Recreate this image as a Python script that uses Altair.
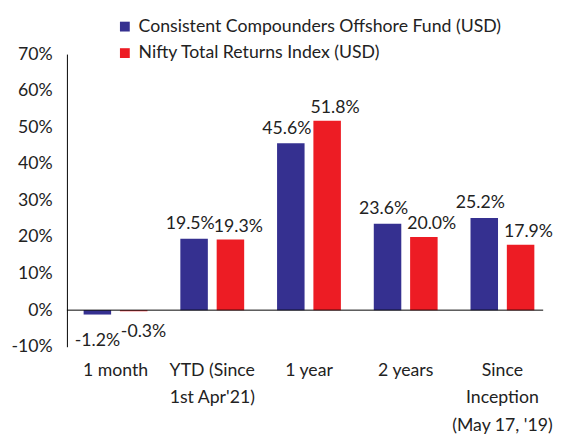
import altair as alt
import pandas as pd

categories = ["1 month", "YTD (Since|1st Apr'21)", "1 year", "2 years", "Since|Inception|(May 17, '19)"]
series = ["Consistent Compounders Offshore Fund (USD)", "Nifty Total Returns Index (USD)"]
fund = [-1.2, 19.5, 45.6, 23.6, 25.2]
nifty = [-0.3, 19.3, 51.8, 20.0, 17.9]
y_ticks = [-10, 0, 10, 20, 30, 40, 50, 60, 70]
colors = ["#353090", "#ED1C24"]

rows = []
for i, c in enumerate(categories):
    rows.append({"cat": c, "series": series[0], "v": fund[i], "lab": f"{fund[i]:.1f}%", "side": -1})
    rows.append({"cat": c, "series": series[1], "v": nifty[i], "lab": f"{nifty[i]:.1f}%", "side": 1})
df = pd.DataFrame(rows)

FONT = "Lato"
FS = 18
TXT = "#222"

x = alt.X("cat:N", sort=categories, title=None,
          scale=alt.Scale(paddingInner=0.34, paddingOuter=0.132, align=0.654),
          axis=alt.Axis(orient="bottom", domain=False, ticks=False, labelAngle=0,
                        labelExpr="split(datum.label, '|')", labelPadding=24,
                        labelLineHeight=28, labelFontSize=FS, labelFont=FONT,
                        labelColor=TXT, labelBaseline="middle"))
y_axis = alt.Axis(values=y_ticks, labelExpr="datum.value + '%'",
                  grid=False, ticks=False, domain=True, domainColor="#000",
                  labelOverlap=False, labelFontSize=FS, labelFont=FONT,
                  labelColor=TXT, labelPadding=15)
y_scale = alt.Scale(domain=[-10, 70], nice=False)
y = alt.Y("v:Q", title=None, scale=y_scale, axis=y_axis)
xo = alt.XOffset("series:N", sort=series, scale=alt.Scale(paddingInner=0.243, paddingOuter=0))
color = alt.Color("series:N", sort=series, scale=alt.Scale(domain=series, range=colors),
                  legend=alt.Legend(title=None, orient="none", legendX=50, legendY=-37,
                                    symbolType="square", symbolSize=100, symbolStrokeWidth=0,
                                    labelFontSize=FS, labelFont=FONT, labelColor=TXT,
                                    labelOffset=5, rowPadding=9, labelLimit=500))

base = alt.Chart(df)
bars = base.mark_bar().encode(x=x, xOffset=xo, y=y, color=color)
pos_b = base.transform_filter("datum.v >= 0 && datum.side < 0").mark_text(
    baseline="bottom", dy=-6, dx=-4, fontSize=FS, font=FONT, color=TXT).encode(
    x=x, xOffset=xo, y=y, text="lab:N")
pos_r = base.transform_filter("datum.v >= 0 && datum.side > 0").mark_text(
    baseline="bottom", dy=-4, dx=8, fontSize=FS, font=FONT, color=TXT).encode(
    x=x, xOffset=xo, y=y, text="lab:N")
neg_b = base.transform_filter("datum.v < 0 && datum.side < 0").mark_text(
    baseline="top", dy=18, dx=0, fontSize=FS, font=FONT, color=TXT).encode(
    x=x, xOffset=xo, y=y, text="lab:N")
neg_r = base.transform_filter("datum.v < 0 && datum.side > 0").mark_text(
    baseline="top", dy=12, dx=10, fontSize=FS, font=FONT, color=TXT).encode(
    x=x, xOffset=xo, y=y, text="lab:N")
zero = base.transform_filter("datum.side < 0 && datum.v < 0").mark_rule(color="#000", strokeWidth=1).encode(
    y=alt.Y(datum=0, scale=y_scale, axis=y_axis, title=None),
    x=alt.value(0), x2=alt.value(485))

chart = alt.layer(bars, zero, pos_b, pos_r, neg_b, neg_r).properties(
    width=485, height=298, padding={"left": 3, "top": 6, "right": 0, "bottom": 0}
).configure_view(stroke=None).configure_axisY(labelOverlap=False)
chart.save("out.html", embed_options={"renderer": "svg", "actions": False})
